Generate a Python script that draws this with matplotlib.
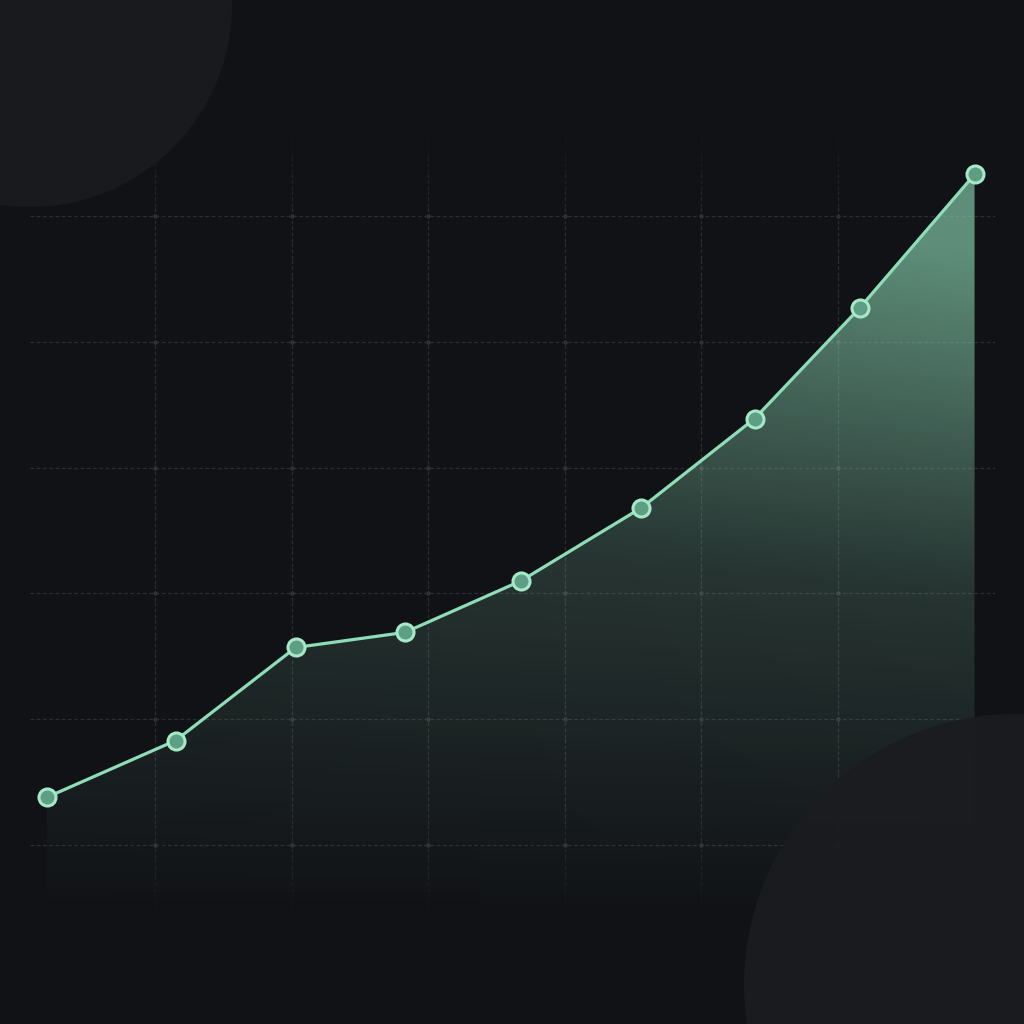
import numpy as np
import matplotlib.pyplot as plt
from matplotlib.patches import Polygon, Ellipse
from matplotlib.colors import LinearSegmentedColormap

# 数据点 (x, y)
x_vals = [0.21, 1.15, 2.03, 2.83, 3.68, 4.56, 5.39, 6.16, 7.0]
y_vals = [3.8, 8.3, 15.7, 16.9, 21.0, 26.8, 33.9, 42.7, 53.3]

# 网格位置
grid_x = [1, 2, 3, 4, 5, 6]
grid_y = [0, 10, 20, 30, 40, 50]

bg = '#111216'
line_c = '#8fdcb8'

fig = plt.figure(figsize=(10.24, 10.24), dpi=100, facecolor=bg)
ax = fig.add_axes([0, 0, 1, 1])
ax.set_facecolor(bg)
x0, x1 = -0.135, 7.362
y0, y1 = -14.23, 67.17
ax.axis('off')


def px_to_data(px, py):
    return x0 + px / 1024 * (x1 - x0), y1 - py / 1024 * (y1 - y0)


# 网格线
gx_left, gx_right = 0.085, 7.15
for gy in grid_y:
    ax.plot([gx_left, gx_right], [gy, gy], color='#2a2d33', lw=0.9,
            ls=(0, (3, 2)), zorder=1)
# 竖线上下渐隐
y_lo, y_hi = -6.5, 57.5
ys = np.linspace(y_lo, y_hi, 48)
for gx in grid_x:
    for i in range(len(ys) - 1):
        t = (ys[i] + ys[i + 1]) / 2
        a = min(1.0, (t - y_lo) / 10, (y_hi - t) / 8)
        ax.plot([gx, gx], [ys[i], ys[i + 1]], color='#2a2d33', lw=0.9,
                ls=(0, (3, 2)), alpha=max(a, 0), zorder=1)
GX, GY = np.meshgrid(grid_x, grid_y)
ax.scatter(GX.ravel(), GY.ravel(), s=10, color='#2e3137', zorder=2, lw=0)

# 渐变填充 (略带斜向)
cmap = LinearSegmentedColormap.from_list('g', [(0.56, 0.86, 0.72, 0.0),
                                               (0.56, 0.86, 0.72, 0.18),
                                               (0.56, 0.86, 0.72, 0.62)])
vv = np.linspace(0, 1, 256).reshape(-1, 1)
hh = np.linspace(0, 1, 256).reshape(1, -1)
grad = np.clip(vv * (0.88 + 0.25 * hh), 0, 1)
grad_bot, grad_top = -6, 54
im = ax.imshow(grad, extent=[x_vals[0], x_vals[-1], grad_bot, grad_top],
               origin='lower', cmap=cmap, aspect='auto', zorder=3,
               interpolation='bicubic', vmin=0, vmax=1)
verts = list(zip(x_vals, y_vals)) + [(x_vals[-1], grad_bot), (x_vals[0], grad_bot)]
clip = Polygon(verts, closed=True, transform=ax.transData)
im.set_clip_path(clip)
ax.set_xlim(x0, x1)
ax.set_ylim(y0, y1)

# 装饰圆
sx = (x1 - x0) / 1024
sy = (y1 - y0) / 1024
cx, cy = px_to_data(30, 5)
ax.add_patch(Ellipse((cx, cy), 2 * 202 * sx, 2 * 202 * sy, color='#191a1e',
                     zorder=4, lw=0))
cx, cy = px_to_data(1015, 985)
ax.add_patch(Ellipse((cx, cy), 2 * 271 * sx, 2 * 271 * sy, color='#1b1c20',
                     alpha=0.92, zorder=4, lw=0))

# 折线与标记
ax.plot(x_vals, y_vals, color=line_c, lw=2.3, zorder=5, solid_capstyle='round')
ax.scatter(x_vals, y_vals, s=150, color='#5e9e84', edgecolor='#a6e8c8',
           linewidth=2.2, zorder=6)

fig.savefig('out.png', dpi=100, facecolor=bg)
